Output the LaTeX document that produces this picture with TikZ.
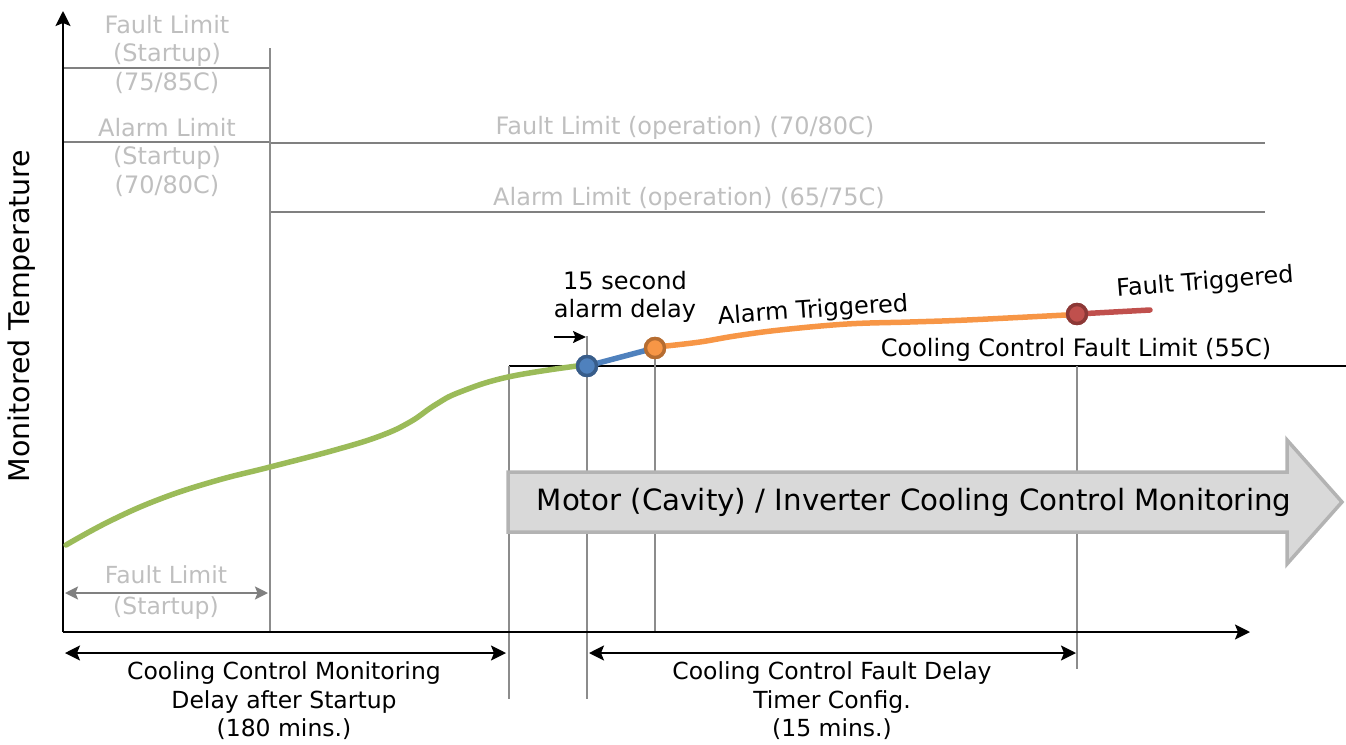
\documentclass[tikz,border=0pt]{standalone}
\usepackage{fontspec}
\setmainfont{DejaVu Sans}
\usetikzlibrary{arrows.meta}
\definecolor{limittext}{HTML}{BFBFBF}
\definecolor{limitline}{HTML}{808080}
\definecolor{guide}{HTML}{8C8C8C}
\definecolor{tempgreen}{HTML}{9BBB59}
\definecolor{tempblue}{HTML}{4F81BD}
\definecolor{tempblueedge}{HTML}{385D8A}
\definecolor{temporange}{HTML}{F79646}
\definecolor{temporangeedge}{HTML}{B66D31}
\definecolor{tempred}{HTML}{C0504D}
\definecolor{temprededge}{HTML}{8C3836}
\definecolor{bandfill}{HTML}{D9D9D9}
\definecolor{bandedge}{HTML}{B3B3B3}
\tikzset{
  label24/.style={font=\fontsize{24}{28.5}\selectfont, inner sep=0pt, align=center},
  greylabel/.style={label24, text=limittext},
  limitrule/.style={draw=limitline, line width=1.7pt},
  guiderule/.style={draw=guide, line width=1.4pt},
  bigtip/.tip={Stealth[length=15pt,width=15pt,inset=3pt]},
  axisline/.style={draw=black, line width=2.2pt, -bigtip},
  spanarrow/.style={draw=black, line width=2pt, bigtip-bigtip},
  tempcurve/.style={line width=5.5pt, line cap=round, line join=round},
  eventdot/.style={circle, minimum size=19pt, inner sep=0pt, line width=3.4pt}
}
\begin{document}
\begin{tikzpicture}[x=1pt,y=-1pt]
\useasboundingbox (0,0) rectangle (1346,744);

% key points of the axes
\coordinate (origin) at (63,632);
\coordinate (ytip) at (63,11);
\coordinate (xtip) at (1250,632);

% startup / operation limit lines
\draw[limitrule] (63,68) -- (270,68);
\draw[limitrule] (63,142) -- (270,142);
\draw[limitrule] (270,143) -- (1265,143);
\draw[limitrule] (270,212) -- (1265,212);
\draw[guiderule] (270,48) -- (270,632);

% cooling control fault limit
\draw[black, line width=1.7pt] (509,366) -- (1346,366);

% event guide lines
\draw[guiderule] (509,366) -- (509,699);
\draw[guiderule] (587,336) -- (587,699);
\draw[guiderule] (655,348) -- (655,632);
\draw[guiderule] (1077,366) -- (1077,669);

% axes
\draw[axisline] (origin) -- (ytip);
\draw[axisline] (origin) -- (xtip);

% monitoring band arrow
\draw[fill=bandfill, draw=bandedge, line width=3.5pt, line join=miter]
  (508,472) -- (1287,472) -- (1287,440) -- (1342,502) -- (1287,564) -- (1287,532) -- (508,532) -- cycle;
\node[font=\fontsize{29.3}{34}\selectfont, inner sep=0pt] (monitor) at (914,502)
  {Motor (Cavity) / Inverter Cooling Control Monitoring};

% temperature trace
\node[eventdot, fill=tempblue, draw=tempblueedge] (alarmstart) at (587,366) {};
\node[eventdot, fill=temporange, draw=temporangeedge] (alarmtrig) at (655,348) {};
\node[eventdot, fill=tempred, draw=temprededge] (faulttrig) at (1077,314) {};
\coordinate (traceend) at (1150,310);

\draw[tempcurve, tempgreen] plot[smooth, tension=0.7] coordinates {
  (66,545) (110,521) (160,499) (215,481) (270,467) (335,450) (380,436)
  (410,422) (435,405) (460,392) (508,377) (577,366)};
\draw[tempcurve, tempblue] (alarmstart) -- (alarmtrig);
\draw[tempcurve, temporange] plot[smooth, tension=0.6] coordinates {
  (666,346) (700,342) (735,336) (780,330) (847,324) (910,322) (967,320) (1066,315)};
\draw[tempcurve, tempred] (faulttrig) -- (traceend);
\node[eventdot, fill=tempblue, draw=tempblueedge] at (alarmstart) {};
\node[eventdot, fill=temporange, draw=temporangeedge] at (alarmtrig) {};
\node[eventdot, fill=tempred, draw=temprededge] at (faulttrig) {};

% alarm delay marker
\coordinate (delayfrom) at (554,337);
\coordinate (delayto) at (586,337);
\draw[black, line width=1.8pt, -{Stealth[length=13pt,width=12pt,inset=2.5pt]}] (delayfrom) -- (delayto);

% labels
\node[greylabel] (faultstart) at (167,54) {Fault Limit\\(Startup)\\(75/85C)};
\node[greylabel] (alarmstartlbl) at (167,157) {Alarm Limit\\(Startup)\\(70/80C)};
\node[greylabel] (faultop) at (685,128) {Fault Limit (operation) (70/80C)};
\node[greylabel] (alarmop) at (689,199) {Alarm Limit (operation) (65/75C)};
\node[label24] (coolinglimit) at (1076,350) {Cooling Control Fault Limit (55C)};
\node[label24] (delaytext) at (625,297) {15 second\\alarm delay};
\node[label24, rotate=4] (alarmlbl) at (813,311) {Alarm Triggered};
\node[label24, rotate=4.5] (faultlbl) at (1205,283) {Fault Triggered};
\node[font=\fontsize{28.5}{32}\selectfont, rotate=90, inner sep=0pt] (ylabel) at (22,316) {Monitored Temperature};

% startup fault window
\coordinate (swin0) at (65,593);
\coordinate (swin1) at (268,593);
\draw[draw=limitline, line width=2pt, {Stealth[length=13pt,width=13pt,inset=2.5pt]}-{Stealth[length=13pt,width=13pt,inset=2.5pt]}] (swin0) -- (swin1);
\node[greylabel, font=\fontsize{23.5}{30}\selectfont] (swinlbl) at (166,593) {Fault Limit\\[1pt](Startup)};

% time spans
\coordinate (span0) at (65,653);
\coordinate (span1) at (506,653);
\coordinate (span2) at (589,653);
\coordinate (span3) at (1076,653);
\draw[spanarrow] (span0) -- (span1);
\draw[spanarrow] (span2) -- (span3);
\node[label24, font=\fontsize{23.5}{28.5}\selectfont] (startdelay) at (284,701)
  {Cooling Control Monitoring\\Delay after Startup\\(180 mins.)};
\node[label24, font=\fontsize{23.5}{28.5}\selectfont] (faultdelay) at (832,701)
  {Cooling Control Fault Delay\\Timer Config.\\(15 mins.)};
\end{tikzpicture}
\end{document}
